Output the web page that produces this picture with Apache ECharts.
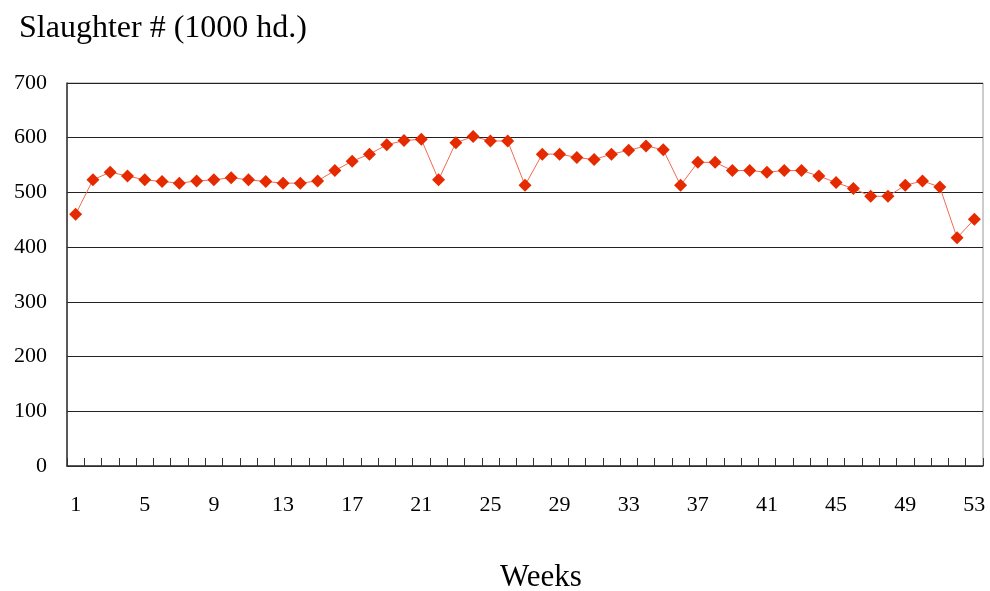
<!DOCTYPE html>
<html><head><meta charset="utf-8">
<script src="https://cdn.jsdelivr.net/npm/echarts@6/dist/echarts.min.js"></script>
<style>html,body{margin:0;padding:0;background:#fff}#c{width:990px;height:591px}</style>
</head><body><div id="c"></div>
<script>
const weeks = Array.from({length:53},(_,i)=>String(i+1));
const slaughter = [460,523,537,530,523,520,517,521,523,527,523,520,517,517,521,540,557,570,587,595,597,523,591,602,594,594,513,570,570,564,560,570,577,585,578,513,555,555,540,540,537,540,540,530,518,507,493,493,513,521,510,417,451];
const yTicks = [0,100,200,300,400,500,600,700];
const titleText = 'Slaughter # (1000 hd.)';
const xName = 'Weeks';

const chart = echarts.init(document.getElementById('c'));
const F = '"Liberation Serif","Times New Roman",serif';
chart.setOption({
  animation:false,
  title:{text:titleText,left:14,top:8,textStyle:{fontFamily:F,fontSize:32,fontWeight:'normal',color:'#000'}},
  grid:{left:67,right:7,top:83,bottom:125,show:true,borderColor:'#999',borderWidth:1,
    containLabel:false,outerBoundsMode:'none'},
  xAxis:{type:'category',data:weeks,boundaryGap:true,
    name:xName,nameLocation:'middle',nameGap:96,
    nameTextStyle:{fontFamily:F,fontSize:31,color:'#000',padding:[0,0,0,32]},
    axisLine:{lineStyle:{color:'#333',width:1.5}},
    axisTick:{show:true,inside:true,length:8,interval:0,lineStyle:{color:'#333'}},
    axisLabel:{interval:3,margin:28,fontFamily:F,fontSize:22,color:'#000'}},
  yAxis:{type:'value',min:0,max:700,interval:100,
    axisLine:{show:true,lineStyle:{color:'#333',width:1.5}},
    axisTick:{show:false},
    splitLine:{lineStyle:{color:'#222',width:1}},
    axisLabel:{margin:20,fontFamily:F,fontSize:22,color:'#000',
      formatter:v=>yTicks.includes(v)?String(v):''}},
  series:[{type:'line',data:slaughter,symbol:'diamond',symbolSize:13,showAllSymbol:true,
    lineStyle:{color:'#f26a50',width:1},
    itemStyle:{color:'#e62a00'}}]
});
</script></body></html>
